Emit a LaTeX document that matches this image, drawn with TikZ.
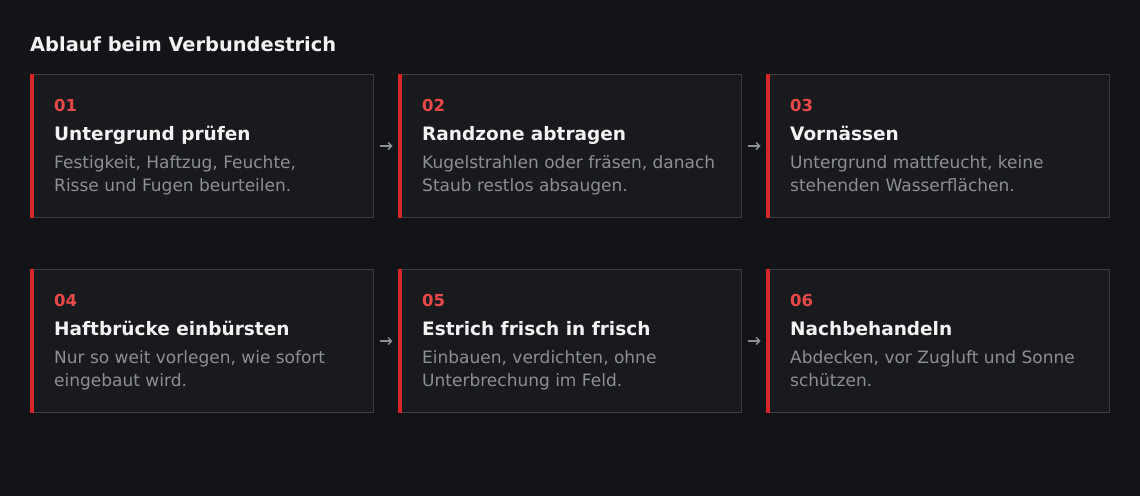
\documentclass[tikz,border=0pt]{standalone}
\usepackage{fontspec}
\setmainfont{DejaVu Sans}
\usetikzlibrary{arrows.meta,positioning}
\definecolor{bg}{RGB}{19,20,24}
\definecolor{cardfill}{RGB}{24,26,30}
\definecolor{cardline}{RGB}{58,62,68}
\definecolor{barred}{RGB}{214,38,42}
\definecolor{numred}{RGB}{232,72,72}
\definecolor{headwhite}{RGB}{243,243,243}
\definecolor{descgray}{RGB}{139,143,150}
\newcommand{\card}[4]{%
  \fill[barred] (#1.north west) rectangle ([xshift=4pt]#1.south west);
  \node[num] (#1n) at ([shift={(24pt,-37pt)}]#1.north west) {#2};
  \node[head] (#1h) at ([shift={(24pt,-66pt)}]#1.north west) {#3};
  \node[desc] (#1d) at ([shift={(24pt,-117pt)}]#1.north west) {#4};}

\begin{document}
\begin{tikzpicture}[x=1pt,y=-1pt,node distance=24pt,
  stepbox/.style={draw=cardline,fill=cardfill,line width=1pt,inner sep=0pt,
    minimum width=343pt,minimum height=143pt,anchor=north west},
  num/.style={anchor=base west,inner sep=0pt,text=numred,font=\fontsize{16.5}{20}\selectfont\bfseries},
  head/.style={anchor=base west,inner sep=0pt,text=headwhite,font=\fontsize{18.5}{22}\selectfont\bfseries},
  desc/.style={anchor=base west,inner sep=0pt,align=left,text=descgray,font=\fontsize{17}{23}\selectfont},
  flow/.style={-{Straight Barb[length=3.5pt,width=7pt]},draw=descgray,line width=1.3pt,
    shorten <=5.5pt,shorten >=5.5pt}]
\useasboundingbox[fill=bg] (0,0) rectangle (1140,496);
\node[anchor=base west,inner sep=0pt,text=headwhite,font=\fontsize{19.4}{23}\selectfont\bfseries]
  (title) at (30,51) {Ablauf beim Verbundestrich};
% first row
\node[stepbox] (s1) at (30,74) {};
\node[stepbox] (s2) [right=of s1] {};
\node[stepbox] (s3) [right=of s2] {};
% second row
\node[stepbox] (s4) [below=51pt of s1] {};
\node[stepbox] (s5) [right=of s4] {};
\node[stepbox] (s6) [right=of s5] {};
\card{s1}{01}{Untergrund prüfen}{Festigkeit, Haftzug, Feuchte,\\Risse und Fugen beurteilen.}
\card{s2}{02}{Randzone abtragen}{Kugelstrahlen oder fräsen, danach\\Staub restlos absaugen.}
\card{s3}{03}{Vornässen}{Untergrund mattfeucht, keine\\stehenden Wasserflächen.}
\card{s4}{04}{Haftbrücke einbürsten}{Nur so weit vorlegen, wie sofort\\eingebaut wird.}
\card{s5}{05}{Estrich frisch in frisch}{Einbauen, verdichten, ohne\\Unterbrechung im Feld.}
\card{s6}{06}{Nachbehandeln}{Abdecken, vor Zugluft und Sonne\\schützen.}
\draw[flow] (s1) -- (s2);
\draw[flow] (s2) -- (s3);
\draw[flow] (s4) -- (s5);
\draw[flow] (s5) -- (s6);
\end{tikzpicture}
\end{document}
